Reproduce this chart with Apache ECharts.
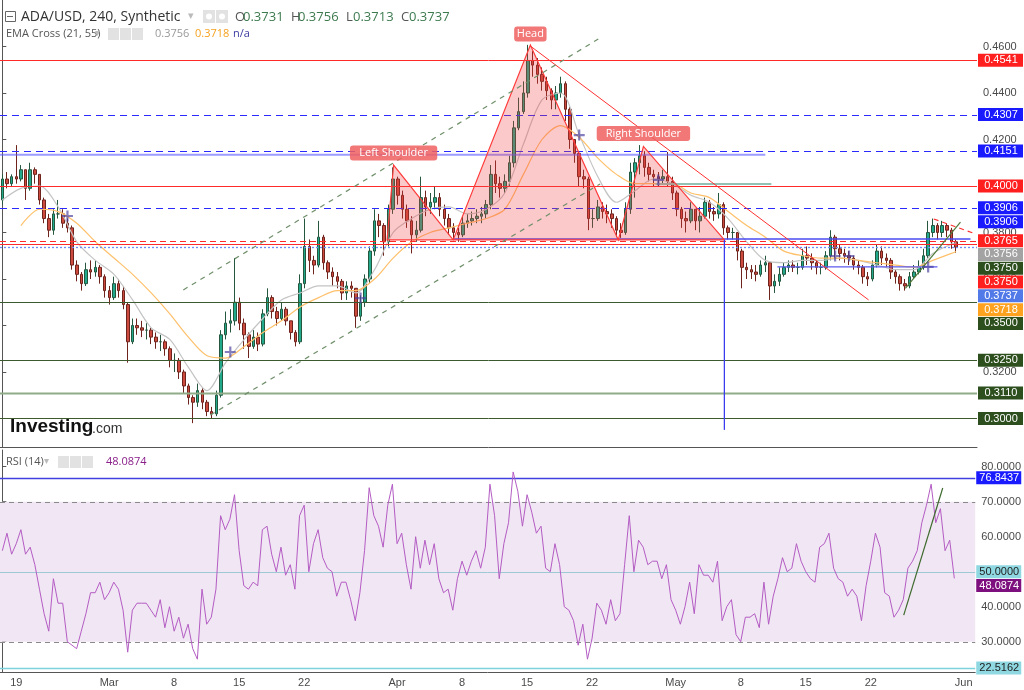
<!DOCTYPE html>
<html><head><meta charset="utf-8">
<script src="https://cdn.jsdelivr.net/npm/echarts@6/dist/echarts.min.js"></script>
<style>html,body{margin:0;padding:0;background:#fff}#c{width:1024px;height:690px}</style>
</head><body><div id="c"></div>
<script>
// ---------------- DATA (12h candles) ----------------
const startOpen = 0.394;
const closes = [
0.403,0.401,0.404,0.403,0.407,0.399,0.407,0.405,0.394,0.386,
0.381,0.388,0.388,0.384,0.382,0.366,0.362,0.358,0.364,0.363,
0.365,0.361,0.355,0.352,0.358,0.355,0.349,0.333,0.340,0.339,
0.338,0.338,0.335,0.333,0.333,0.330,0.325,0.325,0.320,0.314,
0.309,0.307,0.312,0.307,0.303,0.302,0.310,0.336,0.341,0.342,
0.350,0.341,0.336,0.331,0.335,0.332,0.345,0.352,0.346,0.343,
0.347,0.342,0.337,0.333,0.358,0.374,0.368,0.366,0.378,0.367,
0.363,0.361,0.359,0.354,0.357,0.356,0.344,0.350,0.360,0.372,
0.385,0.383,0.376,0.390,0.403,0.396,0.390,0.385,0.379,0.381,
0.395,0.391,0.393,0.395,0.390,0.386,0.382,0.380,0.379,0.384,
0.385,0.386,0.387,0.388,0.392,0.405,0.401,0.399,0.402,0.410,
0.425,0.432,0.440,0.454,0.452,0.448,0.445,0.441,0.437,0.440,
0.444,0.433,0.420,0.414,0.404,0.403,0.386,0.386,0.391,0.389,
0.388,0.386,0.381,0.380,0.390,0.406,0.410,0.413,0.408,0.405,
0.404,0.403,0.404,0.402,0.397,0.390,0.386,0.385,0.390,0.385,
0.387,0.393,0.389,0.388,0.392,0.382,0.380,0.380,0.372,0.365,
0.364,0.363,0.362,0.366,0.367,0.357,0.359,0.362,0.365,0.366,
0.365,0.365,0.370,0.369,0.367,0.365,0.365,0.370,0.378,0.373,
0.371,0.370,0.369,0.366,0.365,0.361,0.360,0.366,0.372,0.369,
0.368,0.363,0.361,0.358,0.357,0.361,0.363,0.365,0.370,0.380,
0.383,0.380,0.383,0.381,0.376,0.3737];
const highs = [
0.405,0.406,0.405,0.4176,0.409,0.407,0.410,0.408,0.405,0.395,
0.388,0.390,0.394,0.390,0.386,0.383,0.368,0.363,0.367,0.368,
0.368,0.366,0.362,0.357,0.361,0.360,0.357,0.350,0.343,0.343,
0.342,0.341,0.339,0.337,0.336,0.334,0.331,0.328,0.326,0.321,
0.315,0.310,0.315,0.313,0.308,0.305,0.312,0.338,0.346,0.347,
0.369,0.352,0.343,0.337,0.338,0.337,0.347,0.356,0.353,0.348,
0.350,0.348,0.342,0.338,0.362,0.386,0.377,0.370,0.385,0.379,
0.368,0.365,0.363,0.360,0.359,0.359,0.356,0.353,0.362,0.374,
0.390,0.388,0.384,0.392,0.408,0.404,0.398,0.392,0.387,0.385,
0.404,0.398,0.397,0.400,0.397,0.392,0.388,0.384,0.382,0.387,
0.388,0.389,0.390,0.391,0.394,0.409,0.411,0.404,0.405,0.413,
0.428,0.438,0.445,0.4607,0.458,0.455,0.451,0.447,0.442,0.443,
0.447,0.445,0.434,0.420,0.415,0.407,0.404,0.390,0.394,0.393,
0.392,0.390,0.387,0.384,0.393,0.410,0.412,0.4176,0.415,0.410,
0.407,0.406,0.407,0.4146,0.404,0.398,0.391,0.389,0.393,0.390,
0.391,0.395,0.394,0.391,0.397,0.393,0.383,0.382,0.380,0.373,
0.367,0.366,0.366,0.368,0.370,0.367,0.362,0.365,0.367,0.368,
0.368,0.367,0.373,0.374,0.371,0.368,0.367,0.372,0.381,0.379,
0.375,0.373,0.372,0.370,0.368,0.366,0.363,0.368,0.375,0.374,
0.371,0.369,0.364,0.362,0.360,0.363,0.366,0.368,0.373,0.385,
0.386,0.384,0.385,0.384,0.382,0.377];
const lows = [
0.392,0.399,0.400,0.401,0.402,0.394,0.398,0.401,0.392,0.384,
0.378,0.379,0.386,0.382,0.380,0.364,0.359,0.355,0.357,0.360,
0.361,0.358,0.352,0.349,0.351,0.352,0.347,0.324,0.332,0.336,
0.335,0.334,0.332,0.330,0.329,0.327,0.322,0.320,0.317,0.311,
0.306,0.298,0.305,0.304,0.301,0.300,0.301,0.309,0.334,0.337,
0.340,0.338,0.330,0.326,0.330,0.329,0.331,0.344,0.343,0.340,
0.342,0.340,0.334,0.331,0.332,0.356,0.363,0.362,0.365,0.364,
0.360,0.357,0.356,0.351,0.351,0.352,0.339,0.342,0.348,0.358,
0.370,0.378,0.370,0.374,0.388,0.392,0.386,0.382,0.371,0.376,
0.380,0.387,0.388,0.390,0.387,0.383,0.379,0.377,0.376,0.378,
0.382,0.383,0.384,0.384,0.386,0.390,0.397,0.395,0.397,0.400,
0.408,0.424,0.431,0.438,0.447,0.444,0.441,0.437,0.433,0.433,
0.438,0.428,0.416,0.410,0.400,0.399,0.381,0.382,0.385,0.386,
0.384,0.382,0.378,0.3777,0.379,0.388,0.395,0.405,0.404,0.402,
0.400,0.400,0.401,0.400,0.394,0.387,0.382,0.380,0.384,0.381,
0.380,0.386,0.386,0.385,0.386,0.379,0.377,0.377,0.368,0.356,
0.360,0.360,0.359,0.361,0.363,0.351,0.354,0.357,0.361,0.363,
0.363,0.362,0.364,0.366,0.364,0.362,0.362,0.364,0.368,0.369,
0.368,0.367,0.366,0.364,0.362,0.358,0.357,0.359,0.365,0.366,
0.365,0.360,0.358,0.355,0.355,0.356,0.360,0.362,0.364,0.369,
0.378,0.377,0.378,0.378,0.373,0.3713];
const rsi = [
56,61,55,58,62,55,57,52,45,38,
33,48,41,41,30,29,28,33,38,44,
44,47,42,44,47,45,39,27,39,41,
41,41,39,37,42,34,40,33,37,31,
35,28,25,45,35,37,45,66,62,65,
72,56,46,45,47,46,62,63,55,50,
57,49,52,45,66,69,50,58,62,54,
51,50,43,47,47,42,36,44,56,74,
66,63,57,69,75,58,61,52,45,60,
51,59,52,58,48,44,45,39,48,53,
49,53,56,51,57,75,66,48,58,64,
78.5,73,63,72,67,61,63,51,50,58,
52,40,39,36,29,35,25,31,41,39,
35,42,36,38,52,66,50,59,57,52,
53,53,48,52,42,39,35,40,47,38,
52,49,49,47,53,36,40,42,32,30,
37,37,38,34,47,35,43,48,54,50,
51,58,53,50,48,47,57,58,61,51,
48,47,43,45,43,36,46,53,61,57,
44,43,37,39,42,51,53,56,64,69,
75,64,68,56,59,48.0874];
// EMA lines, read every 4th candle
const emaStep = 4;
const ema21 = [0.394,0.399,0.400,0.391,0.376,0.368,0.362,0.351,0.339,0.334,0.322,0.312,0.324,0.334,0.343,0.351,0.354,0.357,0.357,0.354,0.364,0.380,0.386,0.390,0.391,0.388,0.390,0.397,0.418,0.437,0.440,0.422,0.404,0.393,0.398,0.403,0.401,0.396,0.393,0.386,0.376,0.368,0.367,0.368,0.368,0.369,0.368,0.366,0.364,0.364,0.371,0.375];
const ema55 = [null,0.383,0.390,0.389,0.384,0.376,0.369,0.362,0.354,0.345,0.335,0.327,0.326,0.331,0.337,0.342,0.348,0.352,0.355,0.355,0.360,0.369,0.376,0.380,0.382,0.384,0.386,0.390,0.405,0.420,0.426,0.421,0.412,0.405,0.401,0.401,0.401,0.397,0.395,0.389,0.383,0.378,0.372,0.370,0.369,0.369,0.368,0.367,0.366,0.365,0.368,0.371];
const ema21Last = 0.3756, ema55Last = 0.3718;
// EMA cross markers [candle, price]
const crossPoints = [[14,0.3871],[49,0.3286],[77,0.3518],[124,0.4219],[141,0.4026],[179,0.3699],[182,0.3699],[199,0.3652]];
// x-axis tick labels
const xTickDates = ['2023-02-19','2023-03-01','2023-03-08','2023-03-15','2023-03-22','2023-04-01','2023-04-08','2023-04-15','2023-04-22','2023-05-01','2023-05-08','2023-05-15','2023-05-22','2023-06-01'];
const xTickText  = ['19','Mar','8','15','22','Apr','8','15','22','May','8','15','22','Jun'];
// price levels
const levelPrices = [0.4541,0.4307,0.4151,0.4000,0.3906,0.3765,0.3750,0.3737,0.3500,0.3250,0.3110,0.3000];
const levelKinds  = ['red','blueDash','blueDash','red','blueDash','redDash','red','dotted','green','green','lightGreen','green'];
// price tags on the right scale
const tagValues = [0.4541,0.4307,0.4151,0.4000,0.3906,0.3906,0.3765,0.3756,0.3750,0.3750,0.3737,0.3718,0.3500,0.3250,0.3110,0.3000];
const tagKinds  = ['red','blue','blue','red','blue','blue','red','grey','green','red','cblue','orange','green','green','green','green'];
const rsiTagValues = [76.8437,50.0000,48.0874,22.5162];
const rsiTagKinds  = ['blue','cyan','purple','cyan'];
const rsiUpper = 76.8437, rsiLower = 22.5162;

// ---------------- BUILD ----------------
const NSLOT = 210;
const cats = [];
const t0 = Date.UTC(2023,1,17,12);
for (let i=0;i<NSLOT;i++){ cats.push(new Date(t0+i*12*3600e3).toISOString().slice(0,13)); }
const tickMap = new Map();
xTickDates.forEach((d,k)=>tickMap.set(d+'T00', xTickText[k]));

const candles = closes.map((c,i)=>[i===0?startOpen:closes[i-1], c, lows[i], highs[i]]);
const ema21Data = ema21.map((v,k)=>[k*emaStep, v]).concat([[closes.length-1, ema21Last]]);
const ema55Data = ema55.map((v,k)=>[k*emaStep, v]).filter(p=>p[1]!=null).concat([[closes.length-1, ema55Last]]);

const COL = {red:'#ff1f1f', blue:'#1a1aff', grey:'#a3a3a3', green:'#2d4f1e', cblue:'#5279e8', orange:'#ffa21f',
             purple:'#7e0f7e', cyan:'#8fd8e2'};
const levelStyle = {
  red:{stroke:'#ff2b2b', lineWidth:1},
  redDash:{stroke:'#ff2b2b', lineWidth:1, lineDash:[6,4]},
  blueDash:{stroke:'#2a2aff', lineWidth:1, lineDash:[7,5]},
  dotted:{stroke:'#6d8cf5', lineWidth:1.3, lineDash:[2,2]},
  green:{stroke:'#3b5a2d', lineWidth:1},
  lightGreen:{stroke:'#8fab88', lineWidth:2}
};
const XMIN=-0.5, XMAX=NSLOT-0.5;

// Annotation drawings (in candle-index / price space)
const hsPoly = [[82.7,0.3768],[84.1,0.409],[96.9,0.3768],[113.5,0.4606],[132.4,0.3768],[137.8,0.417],[155.2,0.3768]];
const partialLevels = [
  {p:0.4134, a:XMIN, b:164.0, st:{stroke:'rgba(90,90,255,0.6)', lineWidth:2}},
  {p:0.4009, a:140.4, b:165.3, st:{stroke:'#93c2b4', lineWidth:2}},
  {p:0.3772, a:96.9, b:208.1, st:{stroke:'#4b4bf0', lineWidth:1.3}},
  {p:0.3652, a:166.6, b:201.0, st:{stroke:'#5a5af0', lineWidth:1.3}}
];
const segs = [
  {a:[113.5,0.4602], b:[186.2,0.3510], st:{stroke:'#ff3030', lineWidth:1}},
  {a:[38.9,0.3553], b:[128.1,0.4632], st:{stroke:'#6f8f6a', lineWidth:1.2, lineDash:[5,5]}},
  {a:[44.7,0.3015], b:[128.5,0.4009], st:{stroke:'#6f8f6a', lineWidth:1.2, lineDash:[5,5]}},
  {a:[155.2,0.3768], b:[155.2,0.2951], st:{stroke:'#3b3bf0', lineWidth:1.3}},
  {a:[194.1,0.356], b:[205.95,0.3845], st:{stroke:'#4f7a3a', lineWidth:1.2}},
  {a:[200.2,0.3858], b:[209.2,0.3794], st:{stroke:'#ff3030', lineWidth:1.2, lineDash:[5,4]}}
];
const hsLabels = [
  {t:'Left Shoulder', at:[84.1,0.409], dy:-12},
  {t:'Head', at:[113.5,0.4606], dy:-11},
  {t:'Right Shoulder', at:[137.8,0.417], dy:-13}
];

function renderPriceDrawings(params, api){
  const c=(x,y)=>api.coord([x,y]);
  const ch=[];
  levelPrices.forEach((p,k)=>{
    const a=c(XMIN,p), b=c(XMAX,p);
    ch.push({type:'line', shape:{x1:a[0],y1:Math.round(a[1])+0.5,x2:b[0],y2:Math.round(b[1])+0.5}, style:Object.assign({},levelStyle[levelKinds[k]])});
  });
  partialLevels.forEach(L=>{
    const a=c(L.a,L.p), b=c(L.b,L.p);
    ch.push({type:'line', shape:{x1:a[0],y1:a[1],x2:b[0],y2:b[1]}, style:Object.assign({},L.st)});
  });
  ch.push({type:'polygon', shape:{points:hsPoly.map(p=>c(p[0],p[1]))}, style:{fill:'rgba(242,60,60,0.28)', stroke:'#ff3b3b', lineWidth:1.2}});
  segs.forEach(s=>{
    const a=c(s.a[0],s.a[1]), b=c(s.b[0],s.b[1]);
    ch.push({type:'line', shape:{x1:a[0],y1:a[1],x2:b[0],y2:b[1]}, style:Object.assign({},s.st)});
  });
  hsLabels.forEach(L=>{
    const p=c(L.at[0],L.at[1]);
    const w = L.t.length*6.1+8;
    ch.push({type:'rect', shape:{x:p[0]-w/2, y:p[1]+L.dy-7.5, width:w, height:15, r:3}, style:{fill:'rgba(240,95,95,0.85)'}});
    ch.push({type:'text', x:p[0], y:p[1]+L.dy, style:{text:L.t, fill:'#fff', font:'11px "Open Sans", sans-serif', align:'center', verticalAlign:'middle'}});
  });
  return {type:'group', children:ch};
}

function renderRsiDrawings(params, api){
  const c=(x,y)=>api.coord([x,y]);
  const ch=[];
  const a70=c(XMIN,70), b30=c(XMAX,30);
  ch.push({type:'rect', shape:{x:a70[0], y:a70[1], width:b30[0]-a70[0], height:b30[1]-a70[1]}, style:{fill:'#f1e6f3'}});
  [[70,{stroke:'#8a8a8a',lineWidth:1,lineDash:[5,4]}],[30,{stroke:'#8a8a8a',lineWidth:1,lineDash:[5,4]}],
   [50,{stroke:'#9cc9d4',lineWidth:1}],[rsiUpper,{stroke:'#4040e0',lineWidth:1.3}],[rsiLower,{stroke:'#7dd3dc',lineWidth:1.3}]].forEach(([v,st])=>{
    const a=c(XMIN,v), b=c(XMAX,v);
    ch.push({type:'line', shape:{x1:a[0],y1:Math.round(a[1])+0.5,x2:b[0],y2:Math.round(b[1])+0.5}, style:st});
  });
  return {type:'group', children:ch};
}
function renderRsiTrend(params, api){
  const a=api.coord([194.1,37.6]), b=api.coord([202.5,73.9]);
  return {type:'line', shape:{x1:a[0],y1:a[1],x2:b[0],y2:b[1]}, style:{stroke:'#3f6b2f', lineWidth:1.2}};
}

function makeTagRenderer(values, kinds){
  return function(params, api){
    let prev=-1e9; const ch=[];
    const x0 = api.coord([XMAX, values[0]])[0];
    values.forEach((v,k)=>{
      let y = api.coord([0,v])[1];
      if (y < prev+13.8) y = prev+13.8;
      prev = y;
      const kind=kinds[k];
      const dark = kind==='cyan';
      ch.push({type:'rect', shape:{x:x0+1, y:y-6.5, width:45, height:13}, style:{fill:COL[kind]}});
      ch.push({type:'text', x:x0+24, y:y, style:{text:v.toFixed(4), fill: dark?'#222':'#fff', font:'11px "Liberation Sans", Arial, sans-serif', align:'center', verticalAlign:'middle'}});
    });
    return {type:'group', children:ch};
  };
}

const plusPath = 'path://M4,0h2v4h4v2h-4v4h-2v-4h-4v-2h4z';
const F = '"Open Sans", "Liberation Sans", sans-serif';

const graphic = [
  {type:'rect', left:5, top:11, shape:{width:10,height:10}, style:{fill:'#fff', stroke:'#666', lineWidth:1}},
  {type:'line', shape:{x1:7,y1:16.5,x2:13,y2:16.5}, style:{stroke:'#666'}},
  {type:'text', x:21, y:17, style:{text:'ADA/USD, 240, Synthetic', fill:'#333', font:'14px '+F, verticalAlign:'middle'}},
  {type:'text', x:188, y:16, style:{text:'▾', fill:'#bbb', font:'11px '+F, verticalAlign:'middle'}},
  {type:'rect', shape:{x:203,y:10,width:12,height:13}, style:{fill:'#e2e2e2'}},
  {type:'rect', shape:{x:216,y:10,width:12,height:13}, style:{fill:'#e2e2e2'}},
  {type:'circle', shape:{cx:209,cy:16.5,r:3}, style:{fill:'#fff'}},
  {type:'circle', shape:{cx:222,cy:16.5,r:3}, style:{fill:'#fff'}},
  {type:'text', x:235, y:17, style:{text:'O', fill:'#555', font:'13px '+F, verticalAlign:'middle'}},
  {type:'text', x:243, y:17, style:{text:'0.3731', fill:'#3d7a4e', font:'13px '+F, verticalAlign:'middle'}},
  {type:'text', x:291, y:17, style:{text:'H', fill:'#555', font:'13px '+F, verticalAlign:'middle'}},
  {type:'text', x:298, y:17, style:{text:'0.3756', fill:'#3d7a4e', font:'13px '+F, verticalAlign:'middle'}},
  {type:'text', x:346, y:17, style:{text:'L', fill:'#555', font:'13px '+F, verticalAlign:'middle'}},
  {type:'text', x:353, y:17, style:{text:'0.3713', fill:'#3d7a4e', font:'13px '+F, verticalAlign:'middle'}},
  {type:'text', x:401, y:17, style:{text:'C', fill:'#555', font:'13px '+F, verticalAlign:'middle'}},
  {type:'text', x:409, y:17, style:{text:'0.3737', fill:'#3d7a4e', font:'13px '+F, verticalAlign:'middle'}},
  {type:'text', x:6, y:34, style:{text:'EMA Cross (21, 55)', fill:'#555', font:'11px '+F, verticalAlign:'middle'}},
  {type:'text', x:95, y:33, style:{text:'▾', fill:'#bbb', font:'10px '+F, verticalAlign:'middle'}},
  {type:'rect', shape:{x:108,y:28,width:11,height:12}, style:{fill:'#e2e2e2'}},
  {type:'rect', shape:{x:120,y:28,width:11,height:12}, style:{fill:'#e2e2e2'}},
  {type:'rect', shape:{x:132,y:28,width:11,height:12}, style:{fill:'#e2e2e2'}},
  {type:'text', x:155, y:34, style:{text:'0.3756', fill:'#999', font:'11px '+F, verticalAlign:'middle'}},
  {type:'text', x:195, y:34, style:{text:'0.3718', fill:'#f5a21f', font:'11px '+F, verticalAlign:'middle'}},
  {type:'text', x:233, y:34, style:{text:'n/a', fill:'#3a3aa0', font:'11px '+F, verticalAlign:'middle'}},
  {type:'text', x:10, y:427, style:{text:'Investing', fill:'#111', font:'bold 19px "Liberation Sans", Arial, sans-serif', verticalAlign:'middle'}},
  {type:'text', x:92, y:429, style:{text:'.com', fill:'#333', font:'14px "Liberation Sans", Arial, sans-serif', verticalAlign:'middle'}},
  {type:'text', x:6, y:462, style:{text:'RSI (14)', fill:'#555', font:'11px '+F, verticalAlign:'middle'}},
  {type:'text', x:44, y:461, style:{text:'▾', fill:'#bbb', font:'10px '+F, verticalAlign:'middle'}},
  {type:'rect', shape:{x:58,y:456,width:11,height:12}, style:{fill:'#e2e2e2'}},
  {type:'rect', shape:{x:70,y:456,width:11,height:12}, style:{fill:'#e2e2e2'}},
  {type:'rect', shape:{x:82,y:456,width:11,height:12}, style:{fill:'#e2e2e2'}},
  {type:'text', x:106, y:462, style:{text:'48.0874', fill:'#8a1f8a', font:'11px '+F, verticalAlign:'middle'}}
];

const axisLabelStyle = {color:'#4a4a4a', fontSize:11, fontFamily:'"Liberation Sans", Arial, sans-serif'};
const option = {
  animation:false,
  backgroundColor:'#fff',
  grid:[{left:0, top:0, width:977, height:447},{left:0, top:450, width:977, height:222}],
  xAxis:[
    {type:'category', gridIndex:0, data:cats, boundaryGap:true, axisLine:{show:true, lineStyle:{color:'#555'}}, axisTick:{show:false}, axisLabel:{show:false}, splitLine:{show:false}},
    {type:'category', gridIndex:1, data:cats, boundaryGap:true, axisLine:{show:true, lineStyle:{color:'#555'}}, axisTick:{show:false}, splitLine:{show:false},
      axisLabel:Object.assign({interval:(i,v)=>tickMap.has(v), formatter:v=>tickMap.get(v)||'', margin:5}, axisLabelStyle)},
    {type:'value', gridIndex:0, min:XMIN, max:XMAX, show:false},
    {type:'value', gridIndex:1, min:XMIN, max:XMAX, show:false}
  ],
  yAxis:[
    {type:'value', gridIndex:0, position:'right', min:0.28774, max:0.48, splitNumber:10,
      axisLine:{show:true, lineStyle:{color:'#555'}}, axisTick:{show:true, length:4, lineStyle:{color:'#555'}}, splitLine:{show:false},
      axisLabel:Object.assign({formatter:v=>v.toFixed(4), margin:6, showMinLabel:false, showMaxLabel:false}, axisLabelStyle)},
    {type:'value', gridIndex:1, position:'right', min:21.34, max:84.77, splitNumber:6,
      axisLine:{show:true, lineStyle:{color:'#555'}}, axisTick:{show:true, length:4, lineStyle:{color:'#555'}}, splitLine:{show:false},
      axisLabel:Object.assign({formatter:v=>v.toFixed(4), margin:6, showMinLabel:false, showMaxLabel:false}, axisLabelStyle)}
  ],
  graphic: graphic,
  series:[
    {type:'custom', name:'rsiBand', xAxisIndex:3, yAxisIndex:1, data:[[100,50]], renderItem:renderRsiDrawings, z:1, silent:true, clip:false},
    {type:'candlestick', xAxisIndex:0, yAxisIndex:0, data:candles, barWidth:3, z:2,
      itemStyle:{color:'#22a88b', color0:'#cc4a3e', borderColor:'#25573f', borderColor0:'#6e241d', borderWidth:1}},
    {type:'line', xAxisIndex:0, yAxisIndex:0, data:ema21Data, symbol:'none', smooth:0.3, z:3, lineStyle:{color:'#c4c4c4', width:1.2}},
    {type:'line', xAxisIndex:0, yAxisIndex:0, data:ema55Data, symbol:'none', smooth:0.3, z:3, lineStyle:{color:'#ffc06b', width:1.2}},
    {type:'custom', name:'drawings', xAxisIndex:2, yAxisIndex:0, data:[[100,0.4]], renderItem:renderPriceDrawings, z:4, silent:true, clip:false},
    {type:'scatter', xAxisIndex:0, yAxisIndex:0, data:crossPoints, symbol:plusPath, symbolSize:11, z:5, itemStyle:{color:'rgba(75,65,160,0.85)'}},
    {type:'line', xAxisIndex:1, yAxisIndex:1, data:rsi, symbol:'none', z:3, lineStyle:{color:'#b45cc4', width:1}},
    {type:'custom', name:'rsiTrend', xAxisIndex:3, yAxisIndex:1, data:[[100,50]], renderItem:renderRsiTrend, z:4, silent:true, clip:false},
    {type:'custom', name:'priceTags', xAxisIndex:2, yAxisIndex:0, data:[[100,0.4]], renderItem:makeTagRenderer(tagValues, tagKinds), z:20, silent:true, clip:false},
    {type:'custom', name:'rsiTags', xAxisIndex:3, yAxisIndex:1, data:[[100,50]], renderItem:makeTagRenderer(rsiTagValues, rsiTagKinds), z:20, silent:true, clip:false}
  ]
};
const chart = echarts.init(document.getElementById('c'), null, {renderer:'canvas'});
chart.setOption(option);
</script>
</body></html>
